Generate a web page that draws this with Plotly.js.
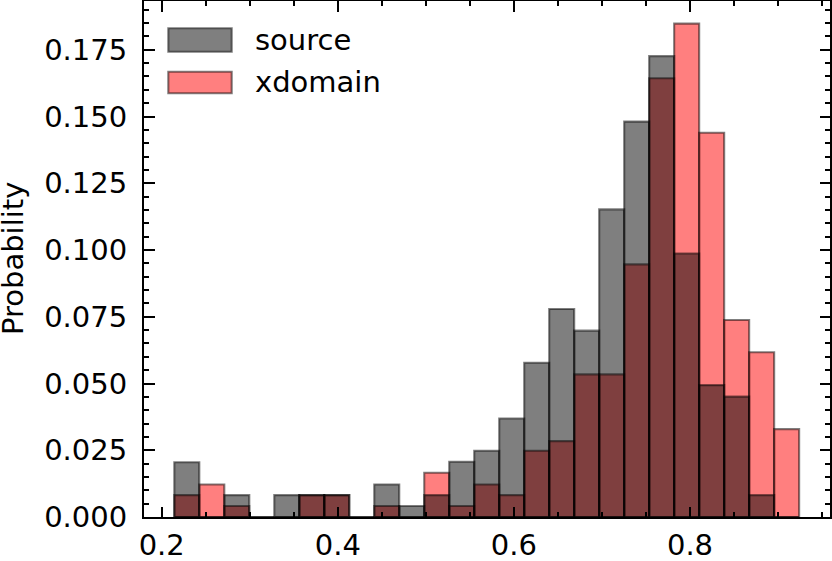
<!DOCTYPE html>
<html>
<head>
<meta charset="utf-8">
<script src="https://cdn.plot.ly/plotly-3.0.1.min.js"></script>
<style>
html,body{margin:0;padding:0;background:#fff;}
#chart{width:832px;height:561px;}
</style>
</head>
<body>
<div id="chart"></div>
<script>
// Histogram bins (centres) and common bin width
const binCenters = [0.22850, 0.25689, 0.28527, 0.31366, 0.34204, 0.37043, 0.39882, 0.42720,
                    0.45559, 0.48397, 0.51236, 0.54075, 0.56913, 0.59752, 0.62590, 0.65429,
                    0.68268, 0.71106, 0.73945, 0.76783, 0.79622, 0.82461, 0.85299, 0.88138, 0.90976];
const binWidth = 0.028386;

// Probabilities per bin
const sourceProb  = [0.0205, 0, 0.0082, 0, 0.0082, 0.0082, 0.0082, 0, 0.0122, 0.0041,
                     0.0082, 0.0207, 0.0248, 0.0369, 0.0578, 0.0779, 0.0698, 0.1152, 0.1481, 0.1726,
                     0.0987, 0.0494, 0.0451, 0.0082, 0];
const xdomainProb = [0.0082, 0.0122, 0.0041, 0, 0, 0.0082, 0.0082, 0, 0.0041, 0,
                     0.0166, 0.0041, 0.0122, 0.0082, 0.0248, 0.0284, 0.0534, 0.0534, 0.0946, 0.1643,
                     0.1848, 0.1439, 0.0738, 0.0617, 0.0329];

const seriesNames = ['source', 'xdomain'];
const xTickVals = [0.2, 0.4, 0.6, 0.8];
const xTickText = ['0.2', '0.4', '0.6', '0.8'];
const yTickVals = [0, 0.025, 0.05, 0.075, 0.1, 0.125, 0.15, 0.175];
const yTickText = ['0.000', '0.025', '0.050', '0.075', '0.100', '0.125', '0.150', '0.175'];
const yTitle = 'Probability';

const FONT = 'DejaVu Sans';
const edge = 'rgba(0,0,0,0.5)';
const srcFill = 'rgba(0,0,0,0.5)';
const xdFill = 'rgba(255,0,0,0.5)';

const traces = [
  { type: 'bar', name: seriesNames[1], x: binCenters, y: xdomainProb, width: binWidth,
    marker: { color: xdFill, line: { color: edge, width: 2.1 } }, hoverinfo: 'x+y' },
  { type: 'bar', name: seriesNames[0], x: binCenters, y: sourceProb, width: binWidth,
    marker: { color: srcFill, line: { color: edge, width: 2.1 } }, hoverinfo: 'x+y' }
];

const L = 144, R = 830, T = 1, B = 517, W = 832, H = 561;
const px2x = p => (p - L) / (R - L);
const px2y = p => (B - p) / (B - T);

const axisCommon = {
  ticks: 'inside', tickcolor: '#000', tickwidth: 2,
  showline: true, linecolor: '#000', linewidth: 2, mirror: 'allticks',
  showgrid: false, zeroline: false,
  tickfont: { family: FONT, size: 29, color: '#000' },
  tickmode: 'array'
};

const layout = {
  width: W, height: H,
  margin: { l: L, r: W - R, t: T, b: H - B, pad: 0 },
  paper_bgcolor: '#fff', plot_bgcolor: '#fff',
  barmode: 'overlay', bargap: 0,
  showlegend: false,
  xaxis: Object.assign({}, axisCommon, {
    range: [0.1799, 0.9590], tickvals: xTickVals, ticktext: xTickText,
    ticklen: 10.5, ticklabelstandoff: 1,
    minor: { ticks: 'inside', ticklen: 5, tickwidth: 2, tickcolor: '#000', tickmode: 'linear', tick0: 0, dtick: 0.05, showgrid: false }
  }),
  yaxis: Object.assign({}, axisCommon, {
    range: [0, 0.19326], tickvals: yTickVals, ticktext: yTickText,
    ticklen: 10.5, ticklabelstandoff: 9,
    minor: { ticks: 'inside', ticklen: 5, tickwidth: 2, tickcolor: '#000', tickmode: 'linear', tick0: 0, dtick: 0.005, showgrid: false }
  }),
  shapes: [
    { type: 'rect', xref: 'paper', yref: 'paper', layer: 'above',
      x0: px2x(168.3), x1: px2x(231.7), y0: px2y(51.7), y1: px2y(28.3),
      fillcolor: srcFill, line: { color: edge, width: 2.1 } },
    { type: 'rect', xref: 'paper', yref: 'paper', layer: 'above',
      x0: px2x(168.3), x1: px2x(231.7), y0: px2y(93.3), y1: px2y(71.7),
      fillcolor: xdFill, line: { color: edge, width: 2.1 } }
  ],
  annotations: [
    { text: seriesNames[0], xref: 'paper', yref: 'paper', x: px2x(253), y: px2y(40),
      xanchor: 'left', yanchor: 'middle', showarrow: false,
      font: { family: FONT, size: 29, color: '#000' } },
    { text: seriesNames[1], xref: 'paper', yref: 'paper', x: px2x(253), y: px2y(82.5),
      xanchor: 'left', yanchor: 'middle', showarrow: false,
      font: { family: FONT, size: 29, color: '#000' } },
    { text: yTitle, xref: 'paper', yref: 'paper', x: px2x(13), y: 0.5,
      xanchor: 'center', yanchor: 'middle', textangle: -90, showarrow: false,
      font: { family: FONT, size: 29, color: '#000' } }
  ]
};

Plotly.newPlot('chart', traces, layout, { displayModeBar: false, staticPlot: true });
</script>
</body>
</html>
